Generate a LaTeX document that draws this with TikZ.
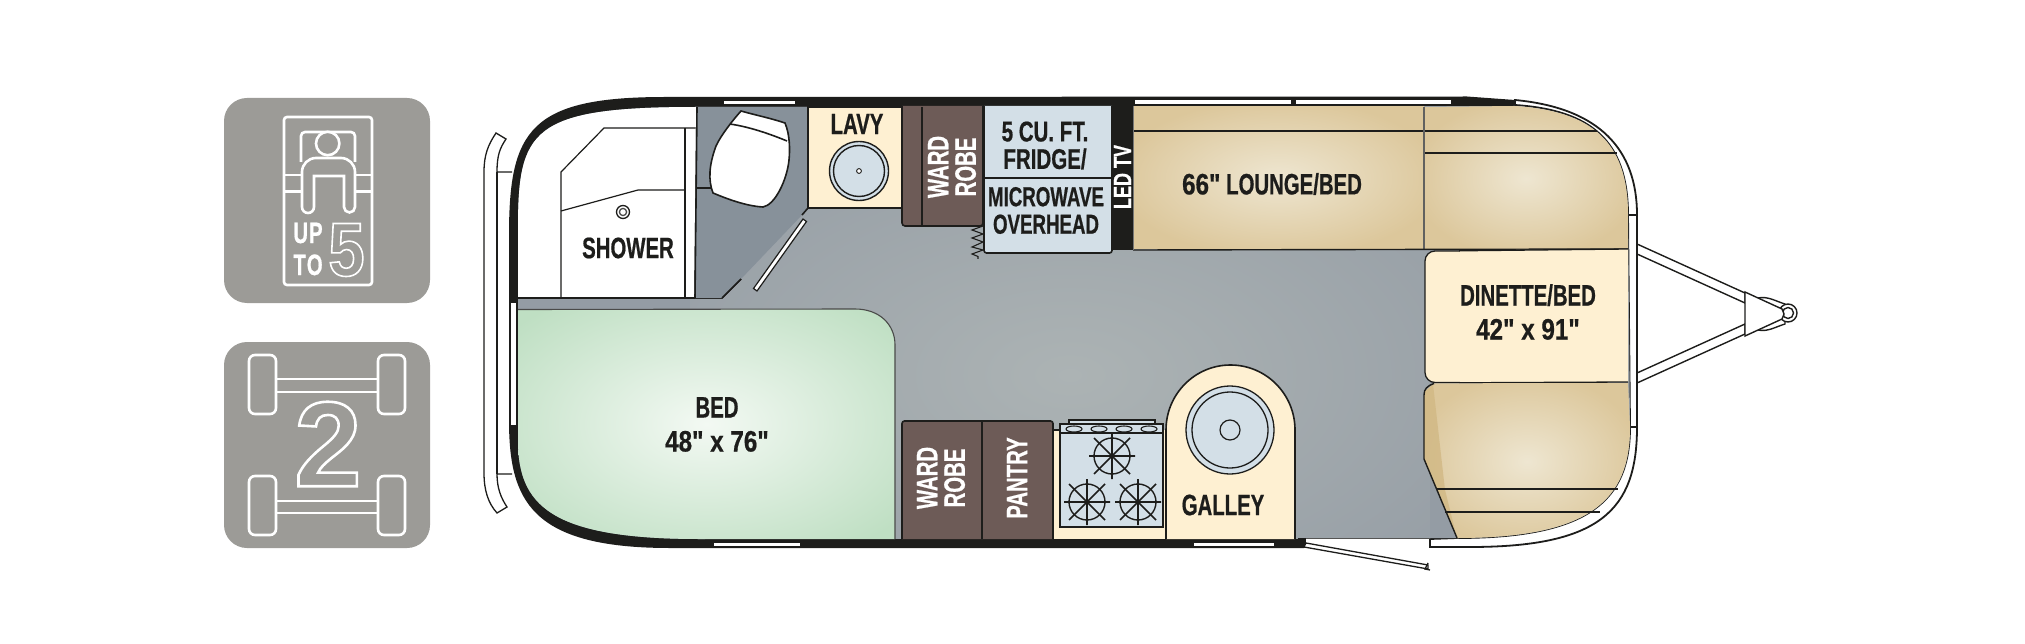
\documentclass[tikz,border=0pt]{standalone}
\usepackage{fontspec}
\newfontfamily\lab[FakeStretch=0.69,FakeBold=0.6]{Liberation Sans Bold}
\newfontfamily\labs[FakeStretch=0.68,FakeBold=0.6]{Liberation Sans Bold}
\newfontfamily\labx[FakeStretch=0.72,FakeBold=0.6]{Liberation Sans Bold}
\newfontfamily\labn[FakeStretch=0.82,FakeBold=0.6]{Liberation Sans Bold}
\newfontfamily\labo[FakeStretch=0.86]{Liberation Sans Bold}
\newfontfamily\labw{Liberation Sans Bold}
\definecolor{ink}{HTML}{1D1D1B}
\definecolor{icongray}{HTML}{9C9B97}
\definecolor{cream}{HTML}{FEF0D2}
\definecolor{iceblue}{HTML}{D3DFE7}
\definecolor{wood}{HTML}{6D5B57}
\definecolor{bathfloor}{HTML}{87919A}
\definecolor{flooredge}{HTML}{949CA4}
\definecolor{floormid}{HTML}{ACB3B4}
\definecolor{tan}{HTML}{DCC79B}
\definecolor{tanmid}{HTML}{EEE6D1}
\definecolor{tandark}{HTML}{D1B884}
\definecolor{bededge}{HTML}{BFDFC3}
\definecolor{bedmid}{HTML}{F3F9F3}
\pgfdeclareradialshading{floorshade}{\pgfpointorigin}{color(0bp)=(floormid); color(36bp)=(flooredge); color(50bp)=(flooredge)}
\pgfdeclareradialshading{tanshade}{\pgfpointorigin}{color(0bp)=(tanmid); color(28bp)=(tan); color(50bp)=(tan)}
\pgfdeclareradialshading{bedshade}{\pgfpointorigin}{color(0bp)=(bedmid); color(33bp)=(bededge); color(50bp)=(bededge)}
\newcommand{\outlinetext}[2]{\special{pdf:code q 1 Tr #1 w 1 1 1 RG}#2\special{pdf:code Q}}
\tikzset{
  x=1pt,y=-1pt,
  icon/.style={fill=icongray,rounded corners=23pt},
  iconline/.style={draw=white,line width=2.6pt},
  wall/.style={draw=ink,line width=1.6pt},
  thin wall/.style={draw=ink,line width=1.2pt},
  stripe/.style={draw=ink,fill=white,line width=1.8pt},
  lbl/.style={inner sep=0,outer sep=0,align=center,text=ink,font=\lab\fontsize{29.5}{34}\selectfont},
  small lbl/.style={lbl,font=\labs\fontsize{27.5}{27.5}\selectfont},
  side lbl/.style={inner sep=0,outer sep=0,align=center,text=white,rotate=90,font=\lab\fontsize{29.5}{27.5}\selectfont},
  burner/.style={draw=ink,line width=1.4pt},
}
\newcommand{\burnerat}[2]{%
  \draw[burner] (#1,#2) circle (18);
  \draw[burner,line width=1.6pt] (#1-23,#2) -- (#1+23,#2) (#1,#2-23) -- (#1,#2+23)
    (#1-18,#2-18) -- (#1+18,#2+18) (#1-18,#2+18) -- (#1+18,#2-18);
}
\begin{document}
\begin{tikzpicture}
\useasboundingbox (0,0) rectangle (2025,644);
% ---------- icons
\fill[icon] (224,98) rectangle (430,303);
\fill[icon] (224,342) rectangle (430,548);
\draw[iconline,rounded corners=3pt] (284,117) rectangle (372,285);
\draw[iconline,rounded corners=4pt] (301,162) -- (301,132) -- (355,132) -- (355,162);
\draw[iconline,fill=icongray] (327.7,143.5) circle (11.7);
\draw[iconline] (284,175) -- (302,175) (284,191.7) -- (302,191.7) (355,175) -- (372,175) (355,191.7) -- (372,191.7);
\draw[iconline,fill=icongray] (302,207) -- (302,172) arc[start angle=180,end angle=270,radius=14] -- (341,158) arc[start angle=270,end angle=360,radius=14] -- (355,207) arc[start angle=0,end angle=180,radius=5.5] -- (344,176) -- (314,176) -- (314,207) arc[start angle=0,end angle=180,radius=6] -- cycle;
\node[inner sep=0,text=white,font=\lab\fontsize{29.5}{32}\selectfont,align=center] (up) at (308,249) {U\kern1pt P\\T\kern1pt O};
\node[inner sep=0,text=white,font=\labo\fontsize{76}{76}\selectfont] (five) at (346.5,250) {\outlinetext{1.6}{5}};
\foreach \wx in {249,378} \foreach \wy in {355,476}
  \draw[iconline,rounded corners=6pt] (\wx,\wy) rectangle +(27,59);
\draw[iconline] (276,379) -- (378,379) (276,392) -- (378,392) (276,501) -- (378,501) (276,513) -- (378,513);
\node[inner sep=0,text=white,font=\labw\fontsize{121}{121}\selectfont] (two) at (328,444) {\outlinetext{2.6}{2}};
% ---------- hitch
\draw[stripe,line width=1.4pt,fill=white] (1637,244) -- (1745,293) -- (1745,303) -- (1637,254) -- cycle;
\draw[stripe,line width=1.4pt,fill=white] (1637,373) -- (1745,324) -- (1745,334) -- (1637,383) -- cycle;
\draw[stripe,line width=1.4pt] (1758,298) .. controls (1768,296) and (1775,301) .. (1785,304) -- (1785,324) .. controls (1775,327) and (1768,332) .. (1758,330) -- cycle;
\draw[draw=ink,fill=white,line width=1.4pt] (1788,313) circle (9);
\draw[draw=ink,fill=white,line width=1.4pt] (1788,313) circle (5.5);
\draw[stripe,line width=1.4pt] (1745,292) -- (1782,309) -- (1784,314) -- (1782,319) -- (1745,336) -- cycle;
% ---------- rear bumper
\draw[stripe,line width=1.3pt] (512,172) -- (497,172) .. controls (497,155) and (500,148) .. (506,139) -- (496,133)
  .. controls (488,145) and (484,155) .. (484,172) -- (484,473)
  .. controls (484,490) and (488,503) .. (497,513) -- (507,507)
  .. controls (501,498) and (497,488) .. (497,474) -- (512,474);
\draw[ink,line width=1.3pt] (497,172) -- (497,474);
% ---------- shell
\fill[ink] (509,235) .. controls (509,130) and (530,97) .. (665,97) -- (1467,96.5) -- (1515,100) -- (1515,200) -- (1304,538) -- (1304,548)
  -- (670,548) .. controls (530,548) and (509,500) .. (509,420) -- cycle;
% front white rim
\draw[stripe] (1515,100) .. controls (1600,108) and (1637,150) .. (1637,215) -- (1637,427)
  .. controls (1637,510) and (1600,547) .. (1470,547) -- (1430,547) -- (1430,539) -- (1457,538)
  .. controls (1590,538) and (1630,500) .. (1630,427) -- (1628,215)
  .. controls (1628,140) and (1590,110) .. (1515,105) -- cycle;
\draw[ink,line width=2.2pt] (1628,215) -- (1637,215) (1630,427) -- (1637,427);
% ---------- floor
\path[fill=flooredge] (518,230) .. controls (518,130) and (530,107) .. (697,107) -- (1515,106)
  .. controls (1590,111) and (1628,140) .. (1628,215) -- (1630,427)
  .. controls (1630,500) and (1590,538) .. (1457,538) -- (1306,538.5) -- (700,539) .. controls (550,539) and (518,505) .. (518,440) -- cycle;
\begin{scope}
  \clip (518,107) rectangle (1430,538.5);
  \shade[shading=floorshade] (690,160) rectangle (1450,590);
\end{scope}
\draw[ink!75,line width=1pt] (1304,538.5) -- (1430,538.5);
% ---------- shower area
\fill[white] (518,298) -- (518,230) .. controls (518,130) and (530,107) .. (697,107) -- (695,298) -- cycle;
\draw[wall] (518,298) -- (722,298) -- (741,279);
\draw[thin wall] (561,298) -- (561,172) -- (604,128) -- (695.5,128);
\draw[thin wall] (685,128) -- (685,298);
\draw[wall] (695,298) -- (697,107);
\draw[thin wall] (561,211) -- (638,190) -- (685,190);
\draw[ink,line width=1.3pt,fill=white] (623,212) circle (6.5);
\draw[ink!80,line width=1.3pt] (623,212) circle (3.6);
\node[lbl] (shower) at (628,248) {SHOWER};
% ---------- bath floor
\fill[bathfloor] (697,107) -- (808,107) -- (808,208) -- (802,215) -- (741,279) -- (722,298) -- (695,298) -- cycle;
\draw[wall] (695,298) -- (697,107);
\draw[wall] (722,298) -- (741,279);
\draw[wall] (808,208) -- (802,215);
\draw[thin wall] (696,188) -- (712,188);
\draw[wall,fill=white] (741,111) .. controls (755,115) and (770,118) .. (785,123) .. controls (790,135) and (790,150) .. (789,160)
  .. controls (787,180) and (775,205) .. (763,207) .. controls (745,206) and (725,198) .. (713,193)
  .. controls (708,180) and (709,165) .. (716,146) .. controls (721,135) and (733,120) .. (741,111) -- cycle;
\draw[wall] (730,124) .. controls (750,127) and (770,134) .. (787,141);
\draw[stripe,line width=1.2pt] (803,219) -- (806.5,221.5) -- (757,291) -- (753.5,288.5) -- cycle;
% ---------- lavy
\draw[wall,fill=cream] (808,107) rectangle (902,208);
\node[lbl] (lavy) at (857,124) {LAVY};
\draw[ink,line width=1.4pt,fill=iceblue] (859,171) circle (29.5);
\draw[ink,line width=1.4pt] (859,171) circle (25.5);
\draw[ink,line width=.9pt,fill=white] (859,171) circle (2.4);
% ---------- wardrobe (upper)
\draw[wall,fill=wood,rounded corners=3pt] (902,106) -- (902,226) -- (983,226) -- (983,106);
\draw[wall] (922,107) -- (922,226);
\node[side lbl] (ward1) at (952,167) {WARD\\ROBE};
\draw[ink,line width=1.1pt] (983,226) -- (972,230) -- (983,234) -- (972,238) -- (983,242) -- (972,247) -- (983,250) -- (972,254) -- (978,256.5) -- (978,259);
% ---------- fridge / microwave
\draw[wall,fill=iceblue,rounded corners=2.5pt] (984,106) -- (984,253) -- (1112,253) -- (1112,106);
\draw[ink,line width=1.7pt] (984,178) -- (1112,178);
\node[small lbl,font=\labx\fontsize{28.5}{27.5}\selectfont] (fridge) at (1045,145.5) {5 CU. FT.\\FRIDGE/};
\node[small lbl] (micro) at (1046,210.5) {MICROWAVE\\OVERHEAD};
% ---------- LED TV
\fill[ink] (1112,106) rectangle (1133,250);
\node[side lbl,font=\labx\fontsize{25}{25}\selectfont] (tv) at (1122.5,177) {LED TV};
% ---------- lounge
\begin{scope}
  \clip (1133,107) rectangle (1424,249);
  \shade[shading=tanshade] (1133,107) rectangle (1424,249);
\end{scope}
\begin{scope}
  \clip (1424,107) -- (1515,106) .. controls (1590,111) and (1628,140) .. (1628,215) -- (1628,249) -- (1424,250) -- cycle;
  \shade[shading=tanshade] (1424,107) rectangle (1628,250);
\end{scope}
\draw[ink,line width=1.2pt] (1133,131) -- (1597,131) (1424,153) -- (1617,153);
\draw[ink!70,line width=1.2pt] (1424,107) -- (1424,250);
\draw[ink,line width=1.4pt] (1133,250) -- (1628,249);
\draw[ink!60,line width=.8pt] (1133,106) -- (1133,250);
\node[lbl] (lounge) at (1272,184) {{\labn 66"} LOUNGE/BED};
% ---------- dinette
\draw[ink,line width=1.3pt,fill=cream,rounded corners=10pt] (1460,251) -- (1425,251) -- (1425,382.5) -- (1460,382.5);
\fill[cream] (1460,250.5) -- (1628,249) -- (1628,382) -- (1460,383) -- cycle;
\draw[ink,line width=1.3pt] (1459,250.8) -- (1628,249) (1459,382.8) -- (1628,382);
\node[lbl] (dinette) at (1528,312) {DINETTE/BED\\{\labn 42" x 91"}};
% ---------- lower seat
\begin{scope}
  \clip (1434,383.5) -- (1628,382.5) -- (1630,427) .. controls (1630,500) and (1590,538) .. (1457,538) -- (1424,459) -- (1424,392) -- cycle;
  \shade[shading=tanshade] (1424,383) rectangle (1630,540);
  \fill[tandark,opacity=.8] (1424,390) -- (1433,384) -- (1445,490) -- (1457,538) -- (1424,459) -- cycle;
\end{scope}
\draw[ink,line width=1.4pt] (1434,383.5) .. controls (1427,386) and (1424,389) .. (1424,395) -- (1424,459) -- (1457,538);
\draw[ink,line width=1.2pt] (1437,489) -- (1618,489) (1445,512) -- (1600,512);
% ---------- door
\fill[ink] (1298,538) rectangle (1306,548);
\draw[stripe,line width=1.3pt] (1306,543) -- (1428,565) -- (1428,569) -- (1304,547) -- cycle;
\draw[ink,line width=1.3pt] (1428,563) -- (1425,569) -- (1430,570);
% ---------- bed
\begin{scope}
  \clip (518,309.5) -- (855,309) .. controls (880,309) and (895,325) .. (895,345) -- (895,539) -- (700,539) .. controls (550,539) and (518,505) .. (518,440) -- cycle;
  \shade[shading=bedshade] (518,309) rectangle (895,539);
\end{scope}
\draw[ink!80,line width=1.1pt] (518,309.5) -- (855,309) .. controls (880,309) and (895,325) .. (895,345) -- (895,539);
\node[lbl] (bed) at (717,424.5) {BED\\{\labn 48" x 76"}};
% ---------- wardrobe + pantry
\draw[wall,fill=wood,rounded corners=2.5pt] (902,539) -- (902,421) -- (1053,421) -- (1053,539);
\draw[wall] (982,421) -- (982,539);
\node[side lbl] (ward2) at (941,478) {WARD\\ROBE};
\node[side lbl] (pantry) at (1017,478) {PANTRY};
% ---------- counter and stove
\fill[cream] (1054,430) rectangle (1166,539);
\draw[thin wall] (1053,430) -- (1060,430);
\draw[ink,line width=1.1pt,fill=iceblue] (1069,424) rectangle (1155,420);
\draw[ink,line width=1.8pt,fill=iceblue] (1060,424) rectangle (1163,527);
\draw[ink,line width=1.1pt] (1060,433) -- (1163,433);
\foreach \kx in {1074,1099,1124,1149}
  \draw[ink,line width=1.1pt,fill=iceblue] (\kx,429) ellipse (8 and 3);
\burnerat{1112}{456}
\burnerat{1087}{502}
\burnerat{1138}{502}
% ---------- galley
\draw[wall,fill=cream] (1166,539) -- (1166,430) arc[start angle=180,end angle=360,x radius=64.5,y radius=65] -- (1295,539);
\draw[ink,line width=1.3pt,fill=iceblue] (1230,430) circle (44);
\draw[ink,line width=1.3pt] (1230,430) circle (38);
\draw[ink,line width=1.2pt] (1230,430) circle (10);
\node[lbl] (galley) at (1223,505) {GALLEY};
% ---------- windows
\foreach \ax/\bx/\ay in {723/795/100,1134/1291/99.5,1295/1451/99.5,713/800/542,1193/1274/542}
  \draw[fill=white,draw=ink,line width=.6pt] (\ax,\ay) rectangle (\bx,\ay+4.5);
\fill[white] (511,303) rectangle (516,425);
\end{tikzpicture}
\end{document}
